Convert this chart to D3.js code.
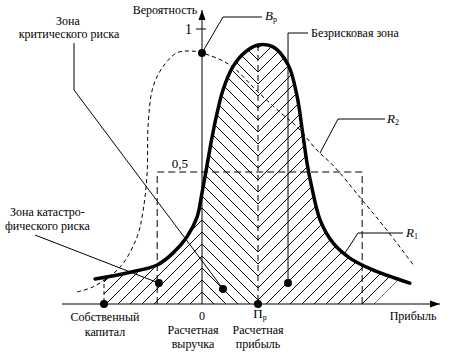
<!DOCTYPE html>
<html>
<head>
<meta charset="utf-8">
<script src="https://cdn.jsdelivr.net/npm/d3@7"></script>
<style>
  body { margin: 0; background: #fff; }
  svg text { font-family: "Liberation Serif", Tinos, "DejaVu Serif", serif; font-size: 12px; fill: #000; }
</style>
</head>
<body>
<div id="chart"></div>
<script>
const W = 451, H = 355;

// R1 - thick risk curve (profit units, probability)
const r1X = [-1.91, -1.34, -0.80, -0.52, -0.27, -0.09, 0, 0.09, 0.18, 0.27, 0.375, 0.55, 0.77, 1.0, 1.27, 1.54, 1.70, 1.79, 1.875, 1.96, 2.11, 2.34, 2.64, 3.05, 3.71];
const r1Y = [0.091, 0.113, 0.142, 0.185, 0.244, 0.315, 0.404, 0.505, 0.607, 0.695, 0.778, 0.862, 0.916, 0.942, 0.935, 0.869, 0.753, 0.633, 0.513, 0.425, 0.305, 0.222, 0.167, 0.124, 0.076];

// R2 - dashed curve
const r2X = [-2.23, -1.95, -1.46, -1.16, -1.05, -0.98, -0.96, -0.875, -0.70, -0.45, -0.21, 0, 0.5, 1.0, 1.39, 1.70, 2.05, 2.36, 2.86, 3.30, 3.80];
const r2Y = [0.044, 0.062, 0.135, 0.244, 0.342, 0.476, 0.658, 0.789, 0.862, 0.913, 0.920, 0.913, 0.869, 0.771, 0.698, 0.644, 0.560, 0.500, 0.378, 0.269, 0.135];

// marked points
const markX = [-1.75, -0.77, 0.375, 1, 1.536, 0];
const markY = [0, 0.076, 0.055, 0, 0.076, 0.913];

// dashed zone rectangle
const zoneX = [-0.80, 2.86];
const zoneY = 0.48;

const hatchStart = -1.75;
const yTicks = [1];

const x = d3.scaleLinear().domain([-2.5, 4.25]).range([62, 440]);
const y = d3.scaleLinear().domain([0, 1]).range([304, 29]);

const svg = d3.select('#chart').append('svg')
  .attr('width', W).attr('height', H);

const defs = svg.append('defs');
defs.append('marker')
  .attr('id', 'arrow')
  .attr('viewBox', '0 0 10 10')
  .attr('refX', 10).attr('refY', 5)
  .attr('markerWidth', 10).attr('markerHeight', 10)
  .attr('markerUnits', 'userSpaceOnUse')
  .attr('orient', 'auto')
  .append('path').attr('d', 'M0,1.5 L10,5 L0,8.5 Z').attr('fill', '#000');

const r1 = r1X.map((d, i) => [d, r1Y[i]]);
const r2 = r2X.map((d, i) => [d, r2Y[i]]);

const line = d3.line()
  .x(d => x(d[0])).y(d => y(d[1]))
  .curve(d3.curveCatmullRom.alpha(0.5));
const area = d3.area()
  .x(d => x(d[0])).y0(y(0)).y1(d => y(d[1]))
  .curve(d3.curveCatmullRom.alpha(0.5));

// hatching under R1
const x0 = x(0), x1 = x(1), yb = y(0), xs = x(hatchStart);
const step = 12;
defs.append('clipPath').attr('id', 'under').append('path').attr('d', area(r1));
defs.append('clipPath').attr('id', 'left')
  .append('rect').attr('x', xs).attr('y', 0).attr('width', x0 - xs).attr('height', yb);
defs.append('clipPath').attr('id', 'mid')
  .append('rect').attr('x', x0).attr('y', 0).attr('width', x1 - x0).attr('height', yb);
const cEnd = (x1 + (x1 - x0) + yb) + step * 5;
defs.append('clipPath').attr('id', 'right')
  .append('polygon').attr('points', [[x1, 0], [cEnd, 0], [cEnd - yb, yb], [x1, yb]].join(' '));

const hatch = svg.append('g').attr('clip-path', 'url(#under)')
  .attr('stroke', '#000').attr('stroke-width', 1);
const ks = d3.range(-5, 40);
// "/" lines left of the vertical axis
hatch.append('g').attr('clip-path', 'url(#left)').selectAll('line')
  .data(ks).join('line')
  .attr('x1', k => x0 - k * step).attr('y1', yb)
  .attr('x2', k => x0 - k * step + 400).attr('y2', yb - 400);
// "\" lines between 0 and Пр
hatch.append('g').attr('clip-path', 'url(#mid)').selectAll('line')
  .data(ks).join('line')
  .attr('x1', k => x0 - 400).attr('y1', k => yb - k * step - 400)
  .attr('x2', k => x0 + 400).attr('y2', k => yb - k * step + 400);
// "/" lines right of Пр
hatch.append('g').attr('clip-path', 'url(#right)').selectAll('line')
  .data(ks).join('line')
  .attr('x1', k => x1 - 400).attr('y1', k => yb + (x1 - x0) - k * step + 400)
  .attr('x2', k => x1 + 400).attr('y2', k => yb + (x1 - x0) - k * step - 400);

// dashed zone rectangle
svg.append('path')
  .attr('d', `M${x(zoneX[0])},${y(0)}V${y(zoneY)}H${x(zoneX[1])}V${y(0)}`)
  .attr('fill', 'none').attr('stroke', '#000').attr('stroke-width', 1)
  .attr('stroke-dasharray', '7,4');

// dashed verticals
const peak = r1[d3.maxIndex(r1, d => d[1])];
svg.append('line')
  .attr('x1', x(1)).attr('x2', x(1)).attr('y1', y(peak[1])).attr('y2', y(0))
  .attr('stroke', '#000').attr('stroke-dasharray', '6,4');
svg.append('line')
  .attr('x1', xs).attr('x2', xs).attr('y1', y(0.098)).attr('y2', y(0))
  .attr('stroke', '#000').attr('stroke-dasharray', '4,3');

// R2 dashed curve
svg.append('path').attr('d', line(r2))
  .attr('fill', 'none').attr('stroke', '#000').attr('stroke-width', 1)
  .attr('stroke-dasharray', '4,3');

// R1 thick curve
svg.append('path').attr('d', line(r1))
  .attr('fill', 'none').attr('stroke', '#000').attr('stroke-width', 3.5)
  .attr('stroke-linecap', 'round');

// axes
svg.append('line')
  .attr('x1', x(-2.5)).attr('x2', x(4.25)).attr('y1', y(0)).attr('y2', y(0))
  .attr('stroke', '#000').attr('marker-end', 'url(#arrow)');
svg.append('line')
  .attr('x1', x(0)).attr('x2', x(0)).attr('y1', y(0)).attr('y2', 10)
  .attr('stroke', '#000').attr('marker-end', 'url(#arrow)');
svg.selectAll('.tick').data(yTicks).join('line')
  .attr('x1', x(0) - 6).attr('x2', x(0) + 4).attr('y1', d => y(d)).attr('y2', d => y(d))
  .attr('stroke', '#000');
svg.selectAll('.ticklabel').data(yTicks).join('text')
  .attr('x', x(0) - 10).attr('y', d => y(d) + 5).attr('text-anchor', 'end')
  .style('font-size', '14px').text(d => d);
svg.append('text').attr('x', x(0) - 14).attr('y', y(zoneY) - 4)
  .attr('text-anchor', 'end').style('font-size', '13px').text('0,5');

// leader lines
const lead = (pts) => svg.append('polyline')
  .attr('points', pts.join(' '))
  .attr('fill', 'none').attr('stroke', '#000').attr('stroke-width', 1);
const mp = i => [x(markX[i]), y(markY[i])];
lead([[74, 43], [74, 90], mp(2)]);
lead([[35, 235], mp(1)]);
lead([mp(5), [223, 17], [262, 17]]);
lead([mp(4), [x(markX[4]), 33], [308, 33]]);
lead([[320, 153], [338, 119], [385, 119]]);
lead([[345, 253], [358, 233], [403, 233]]);

// markers
svg.selectAll('.dot').data(markX).join('circle')
  .attr('cx', (d, i) => x(d)).attr('cy', (d, i) => y(markY[i]))
  .attr('r', 4).attr('fill', '#000');

// texts
const txt = (tx, ty, s, anchor) => svg.append('text')
  .attr('x', tx).attr('y', ty).attr('text-anchor', anchor || 'start').text(s);
txt(165, 14, 'Вероятность', 'middle');
txt(68, 25, 'Зона', 'middle');
txt(69, 38, 'критического риска', 'middle');
txt(311, 37, 'Безрисковая зона');
txt(10, 216, 'Зона катастро-');
txt(5, 230, 'фического риска');
txt(105, 321, 'Собственный', 'middle');
txt(105, 336, 'капитал', 'middle');
txt(x(0), 320, '0', 'middle');
txt(193, 334, 'Расчетная', 'middle');
txt(193, 348, 'выручка', 'middle');
txt(x(1), 334, 'Расчетная', 'middle');
txt(x(1), 348, 'прибыль', 'middle');
txt(413, 320, 'Прибыль', 'middle');

const sub = (tx, ty, main, s, italic, anchor) => {
  const t = svg.append('text').attr('x', tx).attr('y', ty).attr('text-anchor', anchor || 'start');
  t.append('tspan').style('font-style', italic ? 'italic' : 'normal').style('font-size', '13px').text(main);
  t.append('tspan').attr('dy', 2).style('font-size', '8px').text(s);
  return t;
};
sub(265, 20, 'B', 'р', true);
sub(387, 123, 'R', '2', true);
sub(406, 237, 'R', '1', true);
sub(x(1) + 2, 318, 'П', 'р', false, 'middle');
</script>
</body>
</html>
